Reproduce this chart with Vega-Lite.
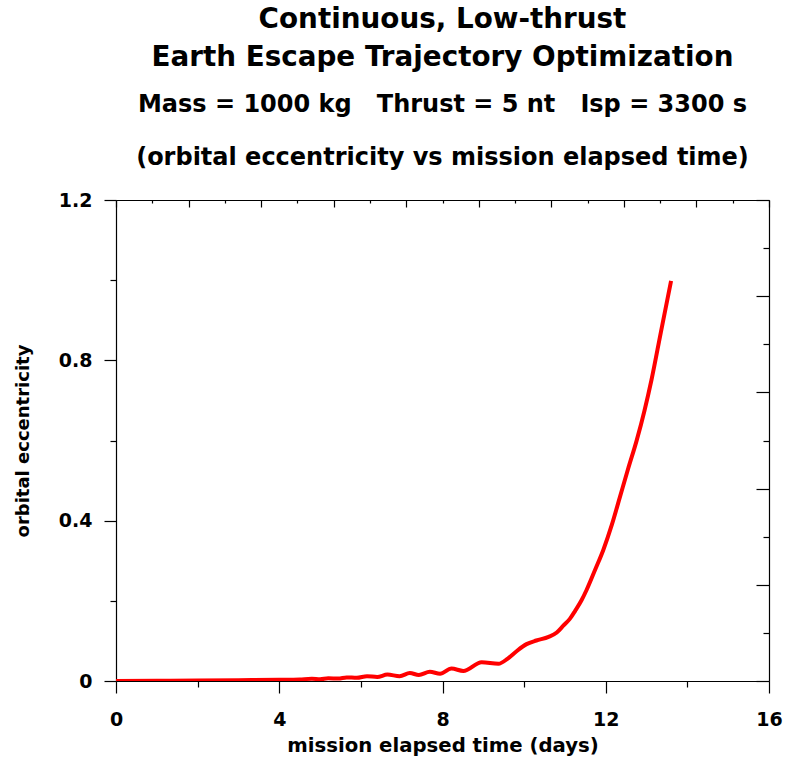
{
  "$schema": "https://vega.github.io/schema/vega-lite/v6.json",
  "autosize": "none",
  "width": 653,
  "height": 481,
  "padding": {"left": 116, "top": 200, "right": 19, "bottom": 78},
  "background": "white",
  "config": {
    "view": {"stroke": null},
    "font": "DejaVu Sans",
    "axis": {"domainColor": "#000000", "domainWidth": 1.2, "tickColor": "#000000", "tickWidth": 1.2, "grid": false, "labelFont": "DejaVu Sans", "labelFontWeight": "bold", "labelColor": "#000000", "titleFont": "DejaVu Sans", "titleFontWeight": "bold", "titleColor": "#000000"}
  },
  "title": {
    "text": ["Continuous, Low-thrust", "Earth Escape Trajectory Optimization"],
    "subtitle": ["Mass = 1000 kg\u00a0\u00a0 Thrust = 5 nt\u00a0\u00a0 Isp = 3300 s", "(orbital eccentricity vs mission elapsed time)"],
    "anchor": "middle",
    "frame": "group",
    "font": "DejaVu Sans",
    "fontSize": 27.8,
    "fontWeight": "bold",
    "lineHeight": 38,
    "color": "#000000",
    "subtitleFont": "DejaVu Sans",
    "subtitleFontSize": 24,
    "subtitleFontWeight": "bold",
    "subtitleLineHeight": 53,
    "subtitleColor": "#000000",
    "subtitlePadding": 21.5,
    "offset": 21
  },
  "data": {
    "values": [
      {"t": 0, "e": 0},
      {"t": 1, "e": 0.0005},
      {"t": 2, "e": 0.001},
      {"t": 3, "e": 0.002},
      {"t": 4, "e": 0.003},
      {"t": 4.5, "e": 0.004},
      {"t": 4.8, "e": 0.0055},
      {"t": 5.0, "e": 0.0045},
      {"t": 5.2, "e": 0.007},
      {"t": 5.45, "e": 0.006},
      {"t": 5.65, "e": 0.009},
      {"t": 5.9, "e": 0.008},
      {"t": 6.15, "e": 0.012},
      {"t": 6.4, "e": 0.010},
      {"t": 6.65, "e": 0.016},
      {"t": 6.95, "e": 0.012},
      {"t": 7.2, "e": 0.020},
      {"t": 7.42, "e": 0.015},
      {"t": 7.69, "e": 0.023},
      {"t": 7.94, "e": 0.018},
      {"t": 8.22, "e": 0.031},
      {"t": 8.51, "e": 0.025},
      {"t": 8.96, "e": 0.047},
      {"t": 9.37, "e": 0.043},
      {"t": 9.6, "e": 0.056},
      {"t": 9.8, "e": 0.073},
      {"t": 10.06, "e": 0.092},
      {"t": 10.3, "e": 0.101},
      {"t": 10.6, "e": 0.110},
      {"t": 10.8, "e": 0.121},
      {"t": 10.96, "e": 0.138},
      {"t": 11.12, "e": 0.155},
      {"t": 11.25, "e": 0.175},
      {"t": 11.41, "e": 0.202},
      {"t": 11.53, "e": 0.227},
      {"t": 11.75, "e": 0.28},
      {"t": 11.94, "e": 0.327},
      {"t": 12.15, "e": 0.39},
      {"t": 12.35, "e": 0.46},
      {"t": 12.55, "e": 0.53},
      {"t": 12.76, "e": 0.601},
      {"t": 12.95, "e": 0.675},
      {"t": 13.12, "e": 0.751},
      {"t": 13.35, "e": 0.87},
      {"t": 13.6, "e": 0.998}
    ]
  },
  "resolve": {"axis": {"x": "independent", "y": "independent"}},
  "layer": [
    {
      "mark": {"type": "line", "color": "#ff0000", "strokeWidth": 4, "interpolate": "monotone", "clip": true},
      "encoding": {
        "x": {
          "field": "t", "type": "quantitative",
          "scale": {"domain": [0, 16], "nice": false, "zero": false},
          "axis": {
            "orient": "bottom",
            "title": "mission elapsed time (days)",
            "titleFontSize": 19.7,
            "titlePadding": 6,
            "values": [0, 2, 4, 6, 8, 10, 12, 14, 16],
            "labelExpr": "datum.value % 4 === 0 ? datum.label : ''",
            "labelFontSize": 19,
            "labelPadding": 17,
            "labelFlush": false,
            "tickSize": {"condition": {"test": "datum.value % 4 === 0", "value": 12}, "value": 6}
          }
        },
        "y": {
          "field": "e", "type": "quantitative",
          "scale": {"domain": [0, 1.2], "nice": false, "zero": false},
          "axis": {
            "orient": "left",
            "title": "orbital eccentricity",
            "titleFontSize": 18,
            "titlePadding": 26,
            "values": [0, 0.2, 0.4, 0.6, 0.8, 1.0, 1.2],
            "labelExpr": "round(datum.value * 10) % 4 === 0 ? format(datum.value, '~g') : ''",
            "labelFontSize": 19,
            "labelPadding": 12,
            "labelFlush": false,
            "tickSize": {"condition": {"test": "round(datum.value * 10) % 4 === 0", "value": 12}, "value": 6}
          }
        }
      }
    },
    {
      "mark": {"type": "line", "opacity": 0},
      "encoding": {
        "x": {
          "field": "t", "type": "quantitative",
          "scale": {"domain": [0, 16], "nice": false, "zero": false},
          "axis": {
            "orient": "top",
            "title": null,
            "labels": false,
            "values": [0, 0.8889, 1.7778, 2.6667, 3.5556, 4.4444, 5.3333, 6.2222, 7.1111, 8, 8.8889, 9.7778, 10.6667, 11.5556, 12.4444, 13.3333, 14.2222, 15.1111, 16],
            "tickSize": {"condition": {"test": "round(datum.value * 18 / 16) % 2 === 0", "value": -7}, "value": -3}
          }
        },
        "y": {
          "field": "e", "type": "quantitative",
          "scale": {"domain": [0, 1.2], "nice": false, "zero": false},
          "axis": {
            "orient": "right",
            "title": null,
            "labels": false,
            "values": [0, 0.12, 0.24, 0.36, 0.48, 0.6, 0.72, 0.84, 0.96, 1.08, 1.2],
            "tickSize": {"condition": {"test": "round(datum.value / 0.12) % 2 === 0", "value": -13}, "value": -6}
          }
        }
      }
    }
  ]
}
